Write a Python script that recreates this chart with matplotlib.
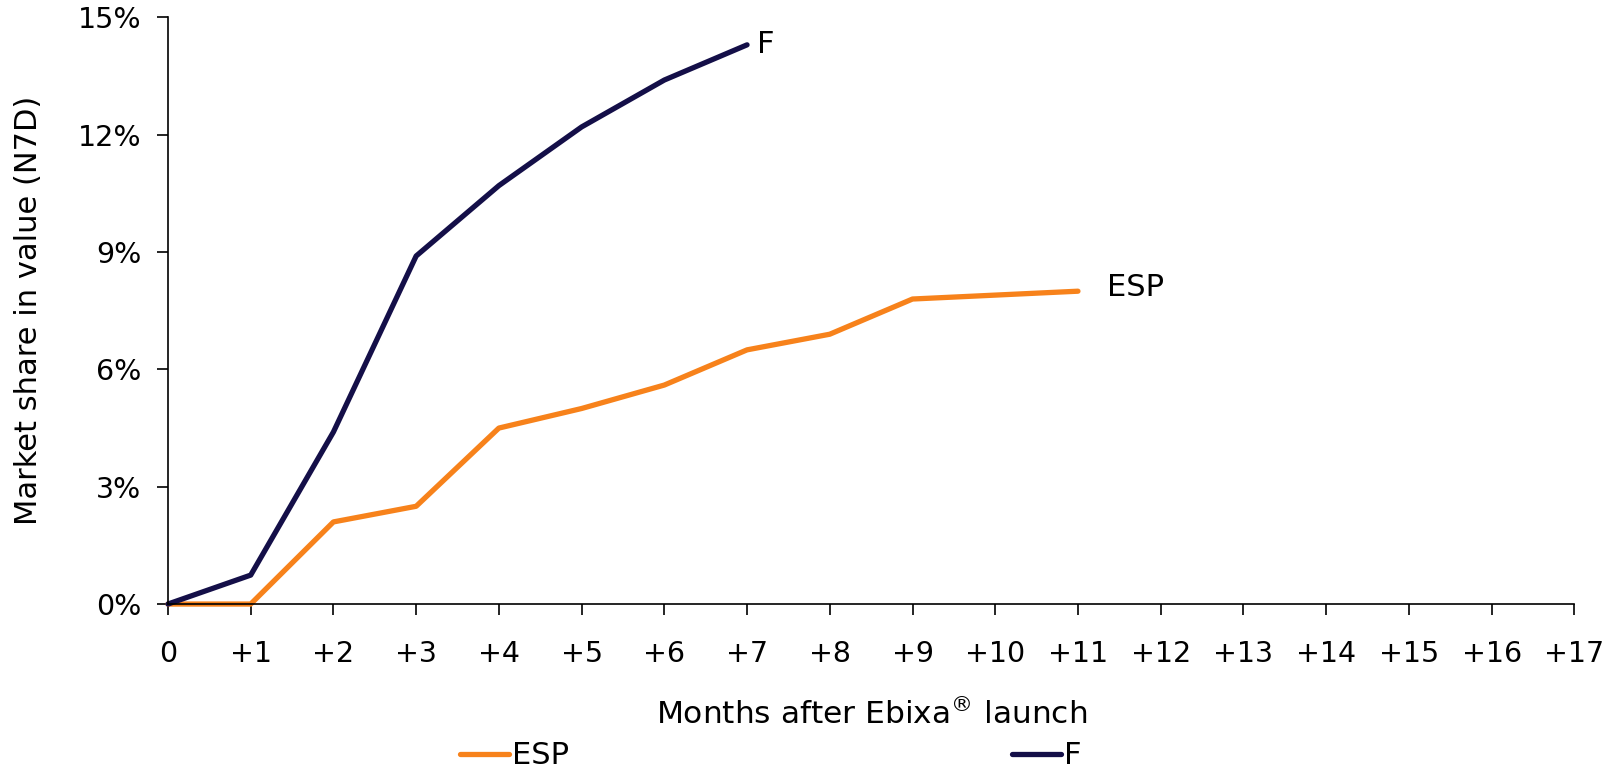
import matplotlib
matplotlib.use("Agg")
import matplotlib.pyplot as plt

# months after launch
months_f = [0, 1, 2, 3, 4, 5, 6, 7]
share_f = [0.0, 0.74, 4.4, 8.9, 10.7, 12.2, 13.4, 14.3]

months_esp = [0, 1, 2, 3, 4, 5, 6, 7, 8, 9, 10, 11]
share_esp = [0.0, 0.0, 2.1, 2.5, 4.5, 5.0, 5.6, 6.5, 6.9, 7.8, 7.9, 8.0]

x_ticks = list(range(0, 18))
x_labels = ["0"] + ["+%d" % m for m in range(1, 18)]
y_ticks = [0, 3, 6, 9, 12, 15]
y_labels = ["%d%%" % v for v in y_ticks]

color_esp = "#F7821B"
color_f = "#140F48"


def main():
    plt.rcParams["font.family"] = "DejaVu Sans"
    fig = plt.figure(figsize=(16.23, 7.76), dpi=100)
    ax = fig.add_axes([0.1035, 0.2216, 0.8665, 0.7559])

    ax.plot(months_esp, share_esp, color=color_esp, lw=3.8, label="ESP",
            solid_capstyle="round", clip_on=False)
    ax.plot(months_f, share_f, color=color_f, lw=3.8, label="F",
            solid_capstyle="round", clip_on=False)

    # end labels
    ax.text(months_f[-1] + 0.12, share_f[-1], "F", fontsize=22,
            ha="left", va="center")
    ax.text(months_esp[-1] + 0.35, share_esp[-1] + 0.1, "ESP", fontsize=22,
            ha="left", va="center")

    ax.set_xlim(0, 17)
    ax.set_ylim(0, 15)
    ax.set_xticks(x_ticks)
    ax.set_xticklabels(x_labels)
    ax.set_yticks(y_ticks)
    ax.set_yticklabels(y_labels)
    ax.tick_params(axis="both", labelsize=20.5, length=8, width=1.2,
                   direction="out", colors="black")
    ax.tick_params(axis="x", pad=18)
    ax.tick_params(axis="y", pad=11)

    for side in ["top", "right"]:
        ax.spines[side].set_visible(False)
    for side in ["left", "bottom"]:
        ax.spines[side].set_linewidth(1.2)

    ax.set_xlabel(r"Months after Ebixa$^{\circledR}$ launch", fontsize=22.5,
                  labelpad=22)
    ax.set_ylabel("Market share in value (N7D)", fontsize=22, labelpad=25)

    fig.legend(loc="center", bbox_to_anchor=(0.475, 0.026), ncol=2,
               frameon=False, fontsize=22, handlelength=1.6,
               handletextpad=0.1, columnspacing=14.5)

    fig.savefig("out.png", dpi=100)


if __name__ == "__main__":
    main()
